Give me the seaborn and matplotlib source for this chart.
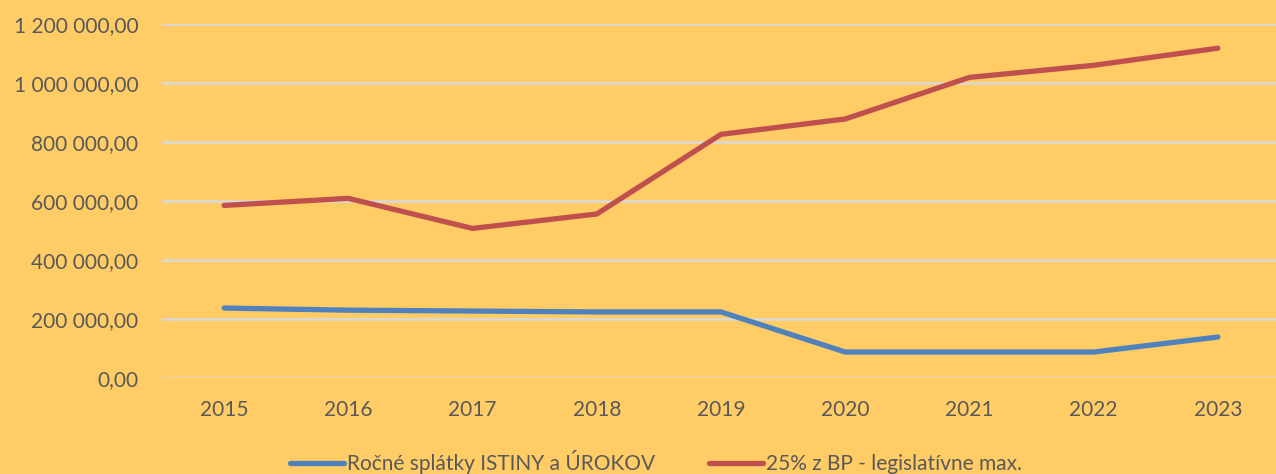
import matplotlib
matplotlib.use("Agg")
import matplotlib.pyplot as plt
from matplotlib.ticker import FuncFormatter
import seaborn as sns
import pandas as pd

# data
years = ["2015", "2016", "2017", "2018", "2019", "2020", "2021", "2022", "2023"]
splatky = [237000, 230000, 227000, 224000, 224000, 88000, 88000, 88000, 139000]
bp_max = [585000, 609000, 507000, 556000, 826000, 878000, 1019000, 1060000, 1118000]
series_names = ["Ročné splátky ISTINY a ÚROKOV", "25% z BP - legislatívne max."]

df = pd.DataFrame({
    "rok": years * 2,
    "hodnota": splatky + bp_max,
    "seria": [series_names[0]] * len(years) + [series_names[1]] * len(years),
})

bg = "#FFCC66"
text_col = "#595959"

sns.set_style("white")
plt.rcParams["font.family"] = ["Lato", "DejaVu Sans"]

fig = plt.figure(figsize=(12.76, 4.74), dpi=100, facecolor=bg)
ax = fig.add_axes([162 / 1276, 1 - 378 / 474, 1118 / 1276, 354 / 474])
ax.set_facecolor(bg)

sns.lineplot(data=df, x="rok", y="hodnota", hue="seria", sort=False,
             palette=["#4F81BD", "#C0504D"], linewidth=3.8, ax=ax,
             legend=False)
for ln in ax.lines:
    ln.set_solid_capstyle("round")
    ln.set_solid_joinstyle("miter")

ax.set_xlim(-0.5, 8.5)
ax.set_ylim(0, 1200000)
ax.set_yticks(range(0, 1200001, 200000))


def fmt(v, pos):
    s = f"{v:,.2f}"
    return s.replace(",", " ").replace(".", ",")


ax.yaxis.set_major_formatter(FuncFormatter(fmt))
ax.grid(axis="y", color="#D9D9D9", linewidth=1.8)
ax.grid(axis="x", visible=False)
ax.set_axisbelow(True)
for sp in ax.spines.values():
    sp.set_visible(False)
ax.tick_params(axis="both", length=0, labelsize=15, labelcolor=text_col)
ax.tick_params(axis="y", pad=17)
ax.tick_params(axis="x", pad=16)
ax.set_xlabel("")
ax.set_ylabel("")

handles = [plt.Line2D([], [], color=c, linewidth=3.8, solid_capstyle="round")
           for c in ["#4F81BD", "#C0504D"]]
leg = fig.legend(handles, series_names, loc="center", ncol=2,
                 bbox_to_anchor=(656 / 1276, 1 - 462 / 474), frameon=False,
                 fontsize=15, handlelength=2.6, handletextpad=0.15,
                 columnspacing=2.6, labelcolor=text_col)

fig.savefig("out.png", dpi=100, facecolor=bg)
